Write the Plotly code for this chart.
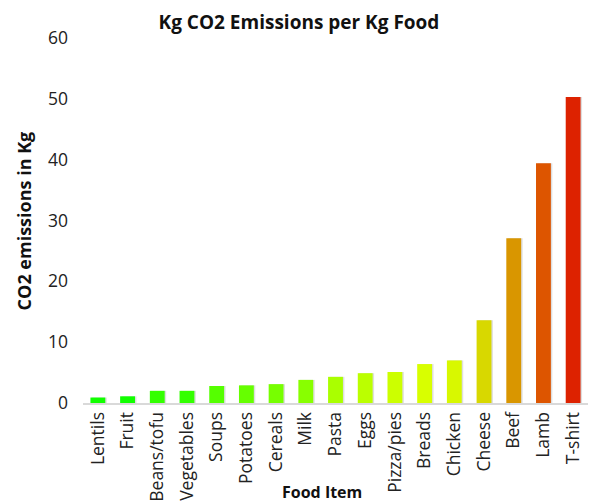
import plotly.graph_objects as go

foods = ["Lentils", "Fruit", "Beans/tofu", "Vegetables", "Soups", "Potatoes", "Cereals",
         "Milk", "Pasta", "Eggs", "Pizza/pies", "Breads", "Chicken", "Cheese", "Beef",
         "Lamb", "T-shirt"]
emissions = [0.9, 1.1, 2.0, 2.0, 2.8, 2.9, 3.1, 3.8, 4.3, 4.9, 5.1, 6.4, 7.0, 13.6, 27.1, 39.4, 50.3]
colors = ["#11ff00", "#11ff00", "#33ff00", "#33ff00", "#55ff00", "#66ff00", "#77ff00",
          "#88ff00", "#aaff00", "#bbff00", "#ccff00", "#d8ff00", "#d8f800", "#d8d800",
          "#d99600", "#dd5500", "#dd2200"]
yticks = [0, 10, 20, 30, 40, 50, 60]

font_family = "'Open Sans', sans-serif"

fig = go.Figure()
# soft shadow behind bars
fig.add_trace(go.Bar(
    x=foods, y=emissions,
    marker=dict(color="rgba(0,0,0,0.13)", line=dict(width=0)),
    width=0.5, offset=-0.2, hoverinfo="skip",
))
fig.add_trace(go.Bar(
    x=foods, y=emissions,
    marker=dict(color=colors, line=dict(width=0)),
    width=0.5, offset=-0.25,
))

fig.update_layout(
    width=592, height=503,
    margin=dict(l=83, r=4, t=38, b=100, autoexpand=False),
    paper_bgcolor="white", plot_bgcolor="white",
    showlegend=False, barmode="overlay",
    font=dict(family=font_family, color="#222222", size=17.5),
    title=dict(text="<b>Kg CO2 Emissions per Kg Food</b>", x=0.505, xanchor="center",
               y=0.955, yanchor="middle", font=dict(size=19, color="#111111")),
    annotations=[
        dict(text="<b>Food Item</b>", xref="paper", yref="paper", x=0.473, y=-0.245,
             xanchor="center", yanchor="middle", showarrow=False,
             font=dict(size=16, color="#111111")),
        dict(text="<b>CO2 emissions in Kg</b>", xref="paper", yref="paper", x=-0.117, y=0.5,
             xanchor="center", yanchor="middle", textangle=-90, showarrow=False,
             font=dict(size=18, color="#111111")),
    ],
)
fig.update_xaxes(
    showgrid=False, showline=True, linecolor="#d9d9d9", linewidth=2,
    tickangle=-90, tickfont=dict(size=17.5), automargin=False,
    range=[-0.5, 16.5],
)
fig.update_yaxes(
    range=[0, 60], tickvals=yticks, showgrid=False, showline=False, zeroline=False,
    tickfont=dict(size=17.5), ticklabelstandoff=14, automargin=False,
)

fig.write_html("out.html")
